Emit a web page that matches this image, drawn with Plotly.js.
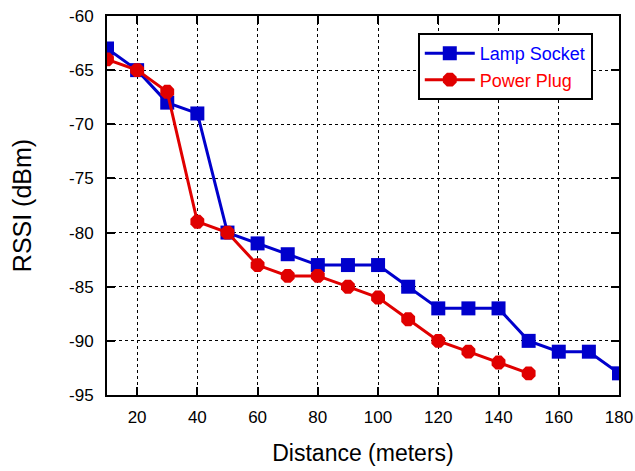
<!DOCTYPE html>
<html><head><meta charset="utf-8">
<script src="https://cdn.plot.ly/plotly-3.0.1.min.js"></script>
<style>body{margin:0;background:#fff}</style></head>
<body><div id="chart" style="width:635px;height:471px"></div>
<script>
const lampDistance = [10,20,30,40,50,60,70,80,90,100,110,120,130,140,150,160,170,180];
const lampRSSI = [-63,-65,-68,-69,-80,-81,-82,-83,-83,-83,-85,-87,-87,-87,-90,-91,-91,-93];
const plugDistance = [10,20,30,40,50,60,70,80,90,100,110,120,130,140,150];
const plugRSSI = [-64,-65,-67,-79,-80,-83,-84,-84,-85,-86,-88,-90,-91,-92,-93];
const xTicks = [20,40,60,80,100,120,140,160,180];
const yTicks = [-95,-90,-85,-80,-75,-70,-65,-60];
const yTickText = yTicks.map(v => String(v));

const traces = [
  {x: lampDistance, y: lampRSSI, name: '<span style="color:#0000ff">Lamp Socket</span>', mode: 'lines+markers',
   line: {color: '#0000cc', width: 3}, marker: {symbol: 'square', size: 14, color: '#0000cc'}},
  {x: plugDistance, y: plugRSSI, name: '<span style="color:#ff0000">Power Plug</span>', mode: 'lines+markers',
   line: {color: '#e00000', width: 3}, marker: {symbol: 'octagon', size: 15, color: '#e00000'}}
];
const axisCommon = {showline: true, linecolor: '#000', linewidth: 2, mirror: 'ticks', ticks: 'inside', ticklen: 8,
  tickwidth: 2, tickcolor: '#000', showgrid: true, gridcolor: '#000', griddash: 'dot', gridwidth: 1, zeroline: false,
  tickfont: {family: 'Liberation Sans, Arial, sans-serif', size: 17, color: '#000'}};
const layout = {
  width: 635, height: 471, margin: {l: 107, r: 16, t: 16, b: 76},
  paper_bgcolor: '#fff', plot_bgcolor: '#fff',
  font: {family: 'Liberation Sans, Arial, sans-serif', color: '#000'},
  xaxis: Object.assign({}, axisCommon, {range: [10, 180], tickvals: xTicks, ticklabelstandoff: 6,
    title: {text: 'Distance (meters)', font: {size: 23}, standoff: 18}}),
  yaxis: Object.assign({}, axisCommon, {range: [-95, -60], tickvals: yTicks, ticktext: yTickText, ticklabelstandoff: 8,
    title: {text: 'RSSI (dBm)', font: {size: 25}, standoff: 30}}),
  legend: {x: 0.607, y: 0.955, xanchor: 'left', yanchor: 'top', bgcolor: '#fff', bordercolor: '#000', borderwidth: 2,
    font: {size: 18}, tracegroupgap: 0, itemwidth: 50},
  showlegend: true
};
Plotly.newPlot('chart', traces, layout, {displayModeBar: false, staticPlot: true});
</script></body></html>
